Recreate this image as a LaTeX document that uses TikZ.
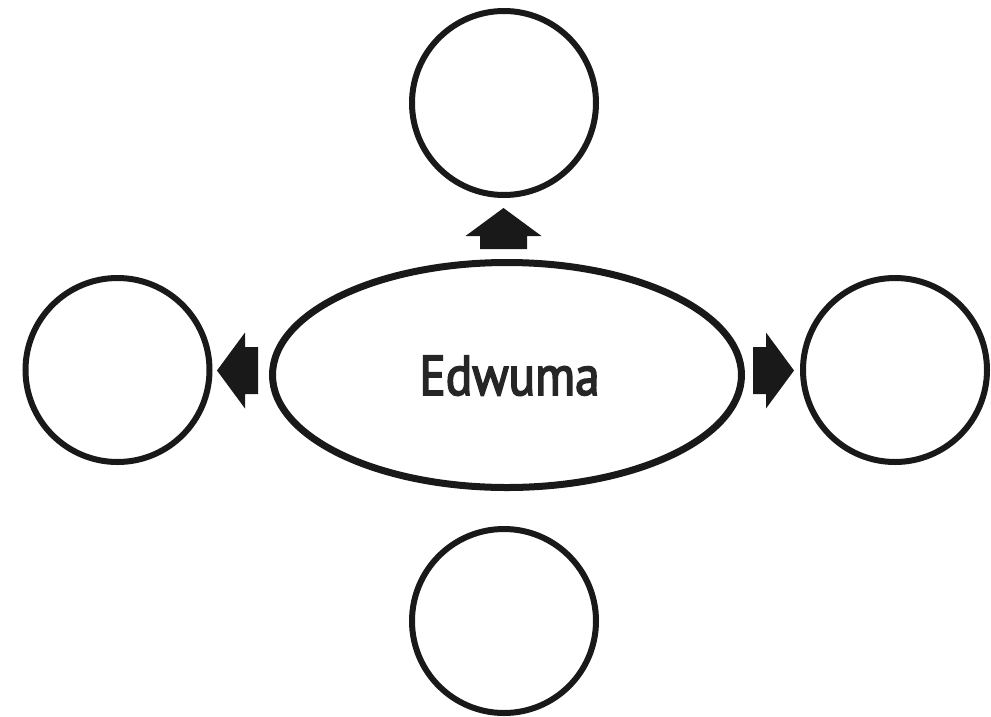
\documentclass[tikz,border=0pt]{standalone}
\usepackage{fontspec}
\newfontfamily\hubfont[FakeBold=3, FakeStretch=0.88]{PT Sans}
\usepackage{tikz}
\usetikzlibrary{positioning, shapes.geometric}

\tikzset{
    ring/.style={circle, draw=black!90, line width=6pt, minimum size=184pt, inner sep=0pt},
    hub/.style={ellipse, draw=black!90, line width=7pt, minimum width=469pt, minimum height=225pt, inner sep=0pt},
    hubtext/.style={font=\hubfont\fontsize{56}{60}\selectfont, text=black!85},
    blockarrow/.style={fill=black!90}
}
% block arrow pointing along +x, its base at the origin
\newcommand{\blockarrow}[2]{%
    \fill[blockarrow, shift={#1}, rotate=#2]
        (0,-23.5) -- (13,-23.5) -- (13,-38) -- (41,0) -- (13,38) -- (13,23.5) -- (0,23.5) -- cycle;
}

\begin{document}
\begin{tikzpicture}[x=1pt, y=-1pt]
    \useasboundingbox (0,0) rectangle (991,716);

    % centre and the four empty circles
    \node[hub] (work) at (507,375) {};
    \node[hubtext, anchor=base] (worklabel) at (509.5,395) {Edwuma};
    \node[ring] (up) at (504,103) {};
    \node[ring] (left) at (117.5,370) {};
    \node[ring] (right) at (895,370) {};
    \node[ring] (down) at (504,621) {};

    % arrows out of the ellipse
    \blockarrow{(503.5,249)}{90}
    \blockarrow{(258,370.5)}{180}
    \blockarrow{(753,370.5)}{0}
\end{tikzpicture}
\end{document}
